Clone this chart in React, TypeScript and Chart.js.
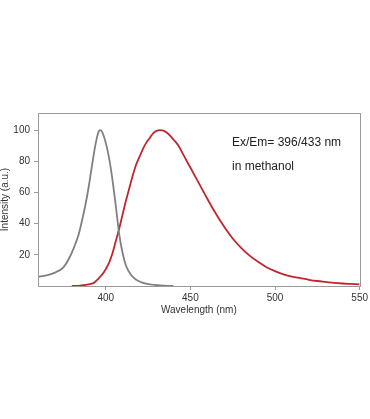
import React, { useEffect, useRef } from "react";
import { Chart, registerables } from "chart.js";

Chart.register(...registerables);

const excitationX = [360, 365, 370, 375, 378, 381, 384, 386, 388, 390, 392, 394, 396, 397, 398, 400, 402, 404, 406, 408, 410, 412, 415, 418, 422, 426, 432, 440];
const excitationY = [6, 6.8, 8.6, 12, 17, 24, 33, 42, 52, 64, 78, 91, 99.5, 100, 98.5, 92, 82, 68, 51, 33, 21, 13, 7, 4, 2, 1, 0.4, 0];

const emissionX = [380, 385, 390, 393, 396, 399, 402, 404, 406, 408, 410, 412, 414, 416, 418, 420, 422, 424, 426, 428, 430, 432, 434, 436, 438, 440, 443, 446, 450, 455, 460, 465, 470, 475, 480, 485, 490, 495, 500, 505, 510, 515, 520, 525, 530, 535, 540, 545, 550];
const emissionY = [0, 0.3, 1, 2, 5, 9, 15, 21, 29, 37, 46, 55, 63, 71, 78, 83, 88, 92, 95, 98, 99.5, 100, 99.7, 98.5, 96.5, 94, 90, 84, 76, 66, 56, 46.5, 38, 30.5, 24.5, 19.5, 15.5, 12, 9.5, 7.5, 6, 5, 4, 3.2, 2.6, 2, 1.6, 1.3, 1];

const xTicks = [400, 450, 500, 550];
const yTicks = [20, 40, 60, 80, 100];
const annotationLines = ["Ex/Em= 396/433 nm", "in methanol"];

export default function App() {
  const ref = useRef<HTMLCanvasElement>(null);
  useEffect(() => {
    if (!ref.current) return;
    const framePlugin = {
      id: "frame",
      afterDatasetsDraw(chart: any) {
        const { ctx, chartArea } = chart;
        ctx.save();
        ctx.strokeStyle = "#9a9a9a";
        ctx.lineWidth = 1;
        ctx.strokeRect(
          Math.round(chartArea.left) + 0.5,
          Math.round(chartArea.top) + 0.5,
          Math.round(chartArea.right - chartArea.left),
          Math.round(chartArea.bottom - chartArea.top)
        );
        ctx.fillStyle = "#222";
        ctx.font = "12px 'Liberation Sans', Arial, sans-serif";
        ctx.textBaseline = "middle";
        ctx.textAlign = "left";
        ctx.fillText(annotationLines[0], 232, 143);
        ctx.fillText(annotationLines[1], 232, 167);
        ctx.restore();
      },
    };
    const chart = new Chart(ref.current, {
      type: "line",
      data: {
        datasets: [
          {
            label: "Excitation",
            data: excitationX.map((x, i) => ({ x, y: excitationY[i] })),
            borderColor: "#808080",
            borderWidth: 1.8,
            pointRadius: 0,
            cubicInterpolationMode: "monotone",
            fill: false,
          },
          {
            label: "Emission",
            data: emissionX.map((x, i) => ({ x, y: emissionY[i] })),
            borderColor: "#c0262b",
            borderWidth: 1.8,
            pointRadius: 0,
            cubicInterpolationMode: "monotone",
            fill: false,
          },
        ],
      },
      options: {
        animation: false,
        responsive: false,
        layout: { padding: { left: 0, top: 113, right: 9, bottom: 103 } },
        plugins: { legend: { display: false }, tooltip: { enabled: false } },
        scales: {
          x: {
            type: "linear",
            min: 360,
            max: 550,
            afterBuildTicks: (s: any) => {
              s.ticks = xTicks.map((v) => ({ value: v }));
            },
            afterFit: (s: any) => {
              s.height = 30;
            },
            border: { display: false },
            grid: { drawOnChartArea: false, drawTicks: true, tickLength: 4, color: "#9a9a9a" },
            ticks: {
              color: "#333",
              padding: 2,
              maxRotation: 0,
              font: { family: "'Liberation Sans', Arial, sans-serif", size: 10 },
            },
            title: {
              display: true,
              text: "Wavelength (nm)",
              color: "#333",
              padding: 0,
              font: { family: "'Liberation Sans', Arial, sans-serif", size: 10 },
            },
          },
          y: {
            type: "linear",
            min: 0,
            max: 111,
            afterBuildTicks: (s: any) => {
              s.ticks = yTicks.map((v) => ({ value: v }));
            },
            afterFit: (s: any) => {
              s.width = 38;
            },
            border: { display: false },
            grid: { drawOnChartArea: false, drawTicks: true, tickLength: 4, color: "#9a9a9a" },
            ticks: {
              color: "#333",
              padding: 4,
              font: { family: "'Liberation Sans', Arial, sans-serif", size: 10 },
            },
            title: {
              display: true,
              text: "Intensity (a.u.)",
              color: "#333",
              padding: 0,
              font: { family: "'Liberation Sans', Arial, sans-serif", size: 10, lineHeight: 1 },
            },
          },
        },
      },
      plugins: [framePlugin],
    } as any);
    return () => chart.destroy();
  }, []);
  return (
    <div style={{ position: "absolute", left: 0, top: 0, width: 370, height: 419, background: "#fff" }}>
      <canvas ref={ref} width={370} height={419} style={{ display: "block" }} />
    </div>
  );
}
